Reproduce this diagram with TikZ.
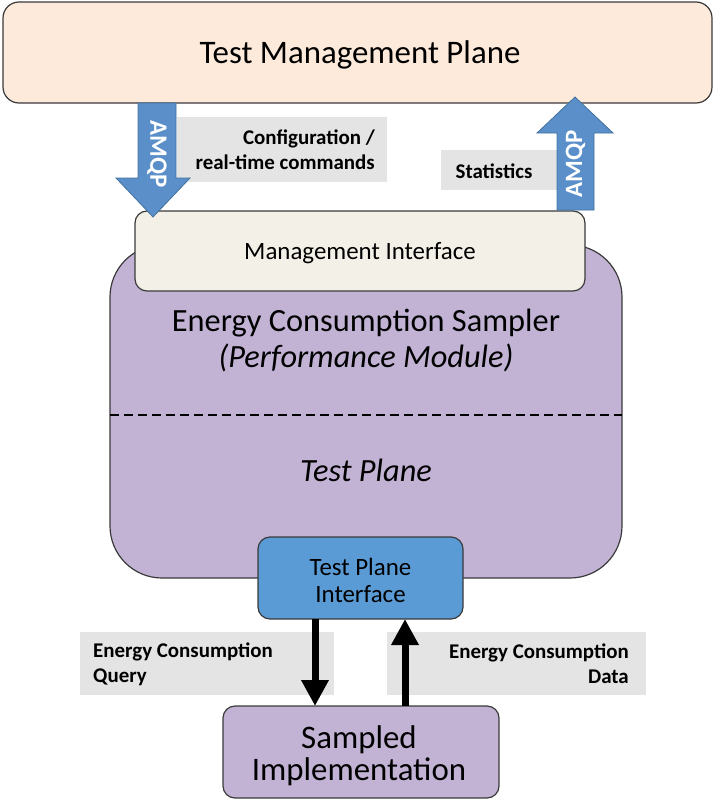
\documentclass[tikz,border=0pt]{standalone}
\usepackage{fontspec}
\setmainfont{Carlito}
\usetikzlibrary{arrows.meta,calc}

\definecolor{peach}{HTML}{FDEADA}
\definecolor{cream}{HTML}{F3F0E7}
\definecolor{lavender}{HTML}{C2B3D5}
\definecolor{skyblue}{HTML}{5B9BD5}
\definecolor{arrowblue}{HTML}{5B8FC9}
\definecolor{arrowedge}{HTML}{41719C}
\definecolor{labelgray}{HTML}{E4E4E4}
\definecolor{edgegray}{HTML}{3A3A3A}

\tikzset{
  box/.style={draw=edgegray, line width=1.2bp, rounded corners=#1},
  tag/.style={fill=labelgray, inner sep=0pt, font=\fontsize{21}{25}\selectfont\bfseries},
  amqp/.style={fill=arrowblue, draw=arrowedge, line width=0.8bp},
  amqptext/.style={text=white, font=\fontsize{25}{28}\selectfont\bfseries},
  flow/.style={line width=7bp, -{Triangle[width=26bp,length=26bp]}},
}

\begin{document}
\begin{tikzpicture}[x=1bp,y=-1bp]
\useasboundingbox (0,0) rectangle (715,800);

% Test management plane
\draw[box=16bp, fill=peach] (3,2) rectangle (712,103);
\node (tmp) at (360,55) {\fontsize{33}{38}\selectfont Test Management Plane};

% Energy consumption sampler body
\draw[box=52bp, fill=lavender] (110,245) rectangle (622,578);
\node (ecs) at (366,323) {\fontsize{32.5}{38}\selectfont Energy Consumption Sampler};
\node (pm) at (366,358) {\fontsize{32.5}{38}\selectfont\itshape (Performance Module)};
\draw[line width=2.6bp, dash pattern=on 9bp off 5bp] (110,415) -- (622,415);
\node (tp) at (366,470) {\fontsize{32.5}{38}\selectfont\itshape Test Plane};

% Management interface
\draw[box=12bp, fill=cream] (135,211) rectangle (585,291);
\node (mi) at (360,253) {\fontsize{25}{30}\selectfont Management Interface};

% Test plane interface
\draw[box=12bp, fill=skyblue] (258,537) rectangle (463,619);
\node[align=center, font=\fontsize{25}{27}\selectfont] (tpi) at (360.5,580)
  {Test Plane\\Interface};

% Sampled implementation
\draw[box=12bp, fill=lavender] (223,706) rectangle (499,798);
\node[align=center, font=\fontsize{33}{32}\selectfont] (si) at (359,756)
  {Sampled\\Implementation};

% Labels
\fill[labelgray] (177,117) rectangle (387,182);
\node[tag, align=right, anchor=east] (cfg) at (375,150)
  {Configuration /\\real-time commands};
\fill[labelgray] (441,150) rectangle (557,190);
\node[tag] (stat) at (494,171) {Statistics};
\fill[labelgray] (80,632) rectangle (334,695);
\node[tag, align=left, anchor=west] (ecq) at (93,664)
  {Energy Consumption\\Query};
\fill[labelgray] (387,632) rectangle (646,695);
\node[tag, align=right, anchor=east] (ecd) at (629,664)
  {Energy Consumption\\Data};

% AMQP block arrows
\draw[amqp] (138,103) -- (176,103) -- (176,178) -- (190,178) -- (153,217)
  -- (116,178) -- (138,178) -- cycle;
\node[rotate=-90, amqptext] (amqpL) at (157,154) {AMQP};
\draw[amqp] (557,210) -- (594,210) -- (594,133) -- (613,133) -- (575,97)
  -- (537,133) -- (557,133) -- cycle;
\node[rotate=90, amqptext] (amqpR) at (575.5,164) {AMQP};

% Query / data flow
\coordinate (qTop) at (315,619);
\coordinate (qBot) at (315,706);
\coordinate (dTop) at (405,619);
\coordinate (dBot) at (405,706);
\draw[flow] (qTop) -- (qBot);
\draw[flow] (dBot) -- (dTop);
\end{tikzpicture}
\end{document}
